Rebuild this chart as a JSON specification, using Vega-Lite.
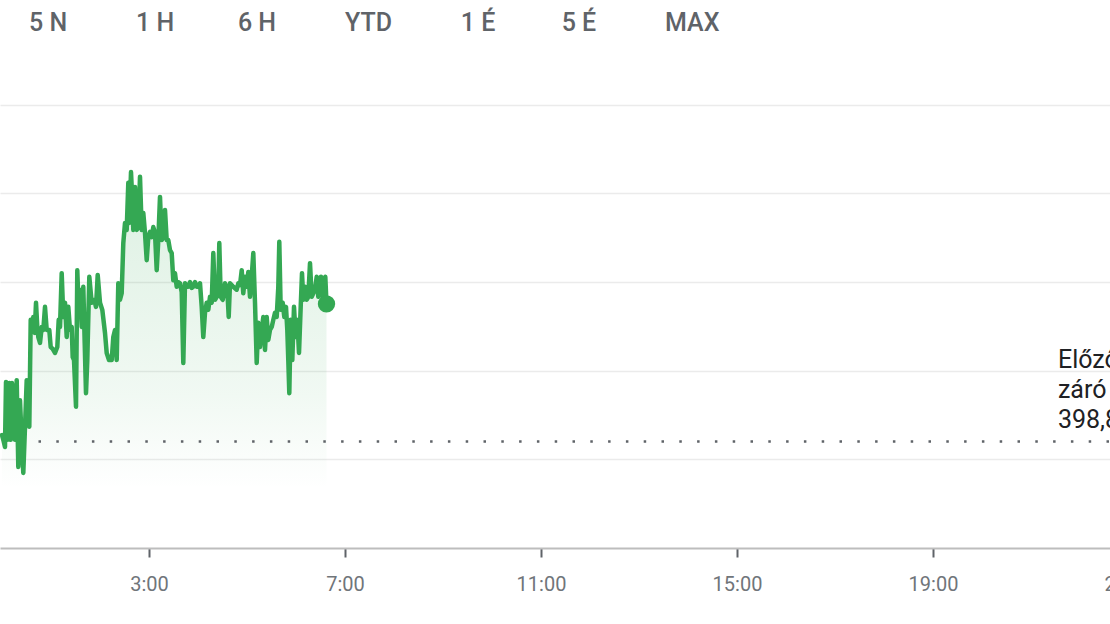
{
  "$schema": "https://vega.github.io/schema/vega-lite/v6.json",
  "width": 1110,
  "height": 488,
  "autosize": {"type": "none"},
  "padding": {"top": 60, "left": 0, "right": 0, "bottom": 76},
  "background": "white",
  "config": {"view": {"stroke": null}, "font": "Roboto"},
  "title": {
    "text": "5 N\u2003\u2003\u2002\u20091 H\u2003\u2003\u20026 H\u2003\u2003\u2002\u2009YTD\u2003\u2003\u2002\u20091 É\u2003\u2003\u2002\u200a5 É\u2003\u2003\u2002\u2009MAX",
    "anchor": "start",
    "frame": "group",
    "dx": 29,
    "offset": 12,
    "baseline": "middle",
    "fontSize": 25,
    "fontWeight": 500,
    "color": "#5f6368",
    "font": "Roboto"
  },
  "datasets": {
    "price": [
      {"t": "2024-05-14T00:00:00", "v": 398.91},
      {"t": "2024-05-14T00:01:36", "v": 398.83},
      {"t": "2024-05-14T00:03:40", "v": 398.71},
      {"t": "2024-05-14T00:04:54", "v": 399.81},
      {"t": "2024-05-14T00:06:29", "v": 398.83},
      {"t": "2024-05-14T00:08:56", "v": 399.79},
      {"t": "2024-05-14T00:10:39", "v": 398.83},
      {"t": "2024-05-14T00:12:15", "v": 399.79},
      {"t": "2024-05-14T00:13:50", "v": 399.50},
      {"t": "2024-05-14T00:15:55", "v": 398.83},
      {"t": "2024-05-14T00:18:00", "v": 399.84},
      {"t": "2024-05-14T00:19:58", "v": 398.37},
      {"t": "2024-05-14T00:22:02", "v": 399.50},
      {"t": "2024-05-14T00:24:07", "v": 398.83},
      {"t": "2024-05-14T00:26:05", "v": 398.27},
      {"t": "2024-05-14T00:28:10", "v": 399.05},
      {"t": "2024-05-14T00:30:15", "v": 399.84},
      {"t": "2024-05-14T00:32:12", "v": 399.33},
      {"t": "2024-05-14T00:33:26", "v": 399.05},
      {"t": "2024-05-14T00:35:09", "v": 400.86},
      {"t": "2024-05-14T00:37:35", "v": 400.74},
      {"t": "2024-05-14T00:38:20", "v": 400.91},
      {"t": "2024-05-14T00:40:02", "v": 400.64},
      {"t": "2024-05-14T00:41:38", "v": 401.15},
      {"t": "2024-05-14T00:43:13", "v": 400.74},
      {"t": "2024-05-14T00:44:27", "v": 400.57},
      {"t": "2024-05-14T00:46:32", "v": 400.47},
      {"t": "2024-05-14T00:48:37", "v": 400.74},
      {"t": "2024-05-14T00:50:34", "v": 400.69},
      {"t": "2024-05-14T00:52:39", "v": 401.08},
      {"t": "2024-05-14T00:54:44", "v": 400.69},
      {"t": "2024-05-14T00:57:55", "v": 400.69},
      {"t": "2024-05-14T00:59:38", "v": 400.40},
      {"t": "2024-05-14T01:02:05", "v": 400.37},
      {"t": "2024-05-14T01:04:54", "v": 400.30},
      {"t": "2024-05-14T01:07:43", "v": 400.40},
      {"t": "2024-05-14T01:09:26", "v": 400.86},
      {"t": "2024-05-14T01:11:01", "v": 400.74},
      {"t": "2024-05-14T01:13:06", "v": 401.65},
      {"t": "2024-05-14T01:15:04", "v": 400.91},
      {"t": "2024-05-14T01:17:09", "v": 401.15},
      {"t": "2024-05-14T01:19:13", "v": 400.57},
      {"t": "2024-05-14T01:21:11", "v": 401.08},
      {"t": "2024-05-14T01:23:16", "v": 400.69},
      {"t": "2024-05-14T01:25:21", "v": 400.74},
      {"t": "2024-05-14T01:26:34", "v": 400.23},
      {"t": "2024-05-14T01:28:10", "v": 400.18},
      {"t": "2024-05-14T01:30:37", "v": 399.39},
      {"t": "2024-05-14T01:32:12", "v": 401.70},
      {"t": "2024-05-14T01:33:55", "v": 401.03},
      {"t": "2024-05-14T01:35:31", "v": 401.37},
      {"t": "2024-05-14T01:37:35", "v": 400.74},
      {"t": "2024-05-14T01:39:33", "v": 401.42},
      {"t": "2024-05-14T01:41:16", "v": 400.47},
      {"t": "2024-05-14T01:42:51", "v": 399.62},
      {"t": "2024-05-14T01:44:27", "v": 400.18},
      {"t": "2024-05-14T01:46:54", "v": 401.59},
      {"t": "2024-05-14T01:49:50", "v": 401.15},
      {"t": "2024-05-14T01:53:01", "v": 401.20},
      {"t": "2024-05-14T01:55:06", "v": 401.08},
      {"t": "2024-05-14T01:57:11", "v": 401.62},
      {"t": "2024-05-14T02:00:00", "v": 401.15},
      {"t": "2024-05-14T02:02:49", "v": 401.03},
      {"t": "2024-05-14T02:06:07", "v": 400.64},
      {"t": "2024-05-14T02:08:12", "v": 400.30},
      {"t": "2024-05-14T02:11:01", "v": 400.18},
      {"t": "2024-05-14T02:14:20", "v": 400.18},
      {"t": "2024-05-14T02:16:17", "v": 400.57},
      {"t": "2024-05-14T02:18:22", "v": 400.69},
      {"t": "2024-05-14T02:20:27", "v": 400.18},
      {"t": "2024-05-14T02:22:24", "v": 401.48},
      {"t": "2024-05-14T02:24:29", "v": 401.20},
      {"t": "2024-05-14T02:26:34", "v": 401.31},
      {"t": "2024-05-14T02:28:32", "v": 402.16},
      {"t": "2024-05-14T02:30:37", "v": 402.50},
      {"t": "2024-05-14T02:32:41", "v": 402.38},
      {"t": "2024-05-14T02:34:39", "v": 403.18},
      {"t": "2024-05-14T02:35:53", "v": 402.50},
      {"t": "2024-05-14T02:37:58", "v": 403.36},
      {"t": "2024-05-14T02:39:33", "v": 402.89},
      {"t": "2024-05-14T02:40:47", "v": 402.38},
      {"t": "2024-05-14T02:42:51", "v": 403.11},
      {"t": "2024-05-14T02:44:56", "v": 402.38},
      {"t": "2024-05-14T02:46:54", "v": 402.43},
      {"t": "2024-05-14T02:48:59", "v": 403.28},
      {"t": "2024-05-14T02:51:04", "v": 402.38},
      {"t": "2024-05-14T02:53:01", "v": 402.67},
      {"t": "2024-05-14T02:55:06", "v": 402.33},
      {"t": "2024-05-14T02:57:11", "v": 401.87},
      {"t": "2024-05-14T02:59:09", "v": 402.26},
      {"t": "2024-05-14T03:01:13", "v": 402.35},
      {"t": "2024-05-14T03:03:18", "v": 402.26},
      {"t": "2024-05-14T03:05:16", "v": 402.43},
      {"t": "2024-05-14T03:07:21", "v": 402.33},
      {"t": "2024-05-14T03:09:26", "v": 401.70},
      {"t": "2024-05-14T03:11:23", "v": 402.21},
      {"t": "2024-05-14T03:13:28", "v": 402.94},
      {"t": "2024-05-14T03:15:33", "v": 402.21},
      {"t": "2024-05-14T03:17:31", "v": 402.26},
      {"t": "2024-05-14T03:19:35", "v": 402.72},
      {"t": "2024-05-14T03:21:40", "v": 402.21},
      {"t": "2024-05-14T03:23:38", "v": 402.21},
      {"t": "2024-05-14T03:25:43", "v": 402.04},
      {"t": "2024-05-14T03:27:48", "v": 401.99},
      {"t": "2024-05-14T03:29:45", "v": 401.53},
      {"t": "2024-05-14T03:31:50", "v": 401.65},
      {"t": "2024-05-14T03:33:55", "v": 401.42},
      {"t": "2024-05-14T03:35:53", "v": 401.50},
      {"t": "2024-05-14T03:37:57", "v": 401.48},
      {"t": "2024-05-14T03:40:02", "v": 401.33},
      {"t": "2024-05-14T03:42:00", "v": 400.13},
      {"t": "2024-05-14T03:44:05", "v": 401.48},
      {"t": "2024-05-14T03:46:10", "v": 401.42},
      {"t": "2024-05-14T03:48:07", "v": 401.42},
      {"t": "2024-05-14T03:50:12", "v": 401.50},
      {"t": "2024-05-14T03:52:17", "v": 401.40},
      {"t": "2024-05-14T03:54:15", "v": 401.42},
      {"t": "2024-05-14T03:56:20", "v": 401.50},
      {"t": "2024-05-14T03:58:24", "v": 401.42},
      {"t": "2024-05-14T04:00:22", "v": 401.42},
      {"t": "2024-05-14T04:02:27", "v": 401.48},
      {"t": "2024-05-14T04:04:32", "v": 401.08},
      {"t": "2024-05-14T04:06:29", "v": 400.57},
      {"t": "2024-05-14T04:08:34", "v": 400.98},
      {"t": "2024-05-14T04:10:39", "v": 401.15},
      {"t": "2024-05-14T04:12:37", "v": 401.03},
      {"t": "2024-05-14T04:14:42", "v": 401.25},
      {"t": "2024-05-14T04:16:47", "v": 401.15},
      {"t": "2024-05-14T04:18:44", "v": 401.99},
      {"t": "2024-05-14T04:20:49", "v": 401.20},
      {"t": "2024-05-14T04:22:54", "v": 401.25},
      {"t": "2024-05-14T04:24:51", "v": 401.37},
      {"t": "2024-05-14T04:26:05", "v": 402.16},
      {"t": "2024-05-14T04:27:48", "v": 401.25},
      {"t": "2024-05-14T04:30:15", "v": 401.20},
      {"t": "2024-05-14T04:31:50", "v": 401.31},
      {"t": "2024-05-14T04:33:04", "v": 401.48},
      {"t": "2024-05-14T04:35:53", "v": 401.37},
      {"t": "2024-05-14T04:37:36", "v": 400.91},
      {"t": "2024-05-14T04:39:11", "v": 401.48},
      {"t": "2024-05-14T04:43:14", "v": 401.42},
      {"t": "2024-05-14T04:47:23", "v": 401.37},
      {"t": "2024-05-14T04:49:21", "v": 401.48},
      {"t": "2024-05-14T04:51:26", "v": 401.45},
      {"t": "2024-05-14T04:53:31", "v": 401.70},
      {"t": "2024-05-14T04:55:28", "v": 401.31},
      {"t": "2024-05-14T04:57:33", "v": 401.59},
      {"t": "2024-05-14T04:59:38", "v": 401.42},
      {"t": "2024-05-14T05:01:36", "v": 401.67},
      {"t": "2024-05-14T05:03:40", "v": 401.25},
      {"t": "2024-05-14T05:05:45", "v": 401.59},
      {"t": "2024-05-14T05:07:43", "v": 401.99},
      {"t": "2024-05-14T05:09:48", "v": 401.15},
      {"t": "2024-05-14T05:11:53", "v": 400.13},
      {"t": "2024-05-14T05:13:50", "v": 400.81},
      {"t": "2024-05-14T05:15:55", "v": 400.40},
      {"t": "2024-05-14T05:18:00", "v": 400.69},
      {"t": "2024-05-14T05:19:58", "v": 400.91},
      {"t": "2024-05-14T05:22:02", "v": 400.35},
      {"t": "2024-05-14T05:24:07", "v": 400.91},
      {"t": "2024-05-14T05:26:05", "v": 400.52},
      {"t": "2024-05-14T05:28:10", "v": 400.69},
      {"t": "2024-05-14T05:30:15", "v": 400.74},
      {"t": "2024-05-14T05:32:12", "v": 400.86},
      {"t": "2024-05-14T05:34:17", "v": 400.98},
      {"t": "2024-05-14T05:36:22", "v": 400.91},
      {"t": "2024-05-14T05:38:20", "v": 401.42},
      {"t": "2024-05-14T05:39:33", "v": 402.18},
      {"t": "2024-05-14T05:41:16", "v": 401.03},
      {"t": "2024-05-14T05:43:43", "v": 401.15},
      {"t": "2024-05-14T05:45:41", "v": 400.91},
      {"t": "2024-05-14T05:47:45", "v": 401.08},
      {"t": "2024-05-14T05:49:21", "v": 400.69},
      {"t": "2024-05-14T05:50:34", "v": 400.18},
      {"t": "2024-05-14T05:51:48", "v": 399.62},
      {"t": "2024-05-14T05:53:31", "v": 400.86},
      {"t": "2024-05-14T05:55:28", "v": 400.18},
      {"t": "2024-05-14T05:57:33", "v": 401.08},
      {"t": "2024-05-14T05:59:38", "v": 400.57},
      {"t": "2024-05-14T06:01:36", "v": 400.86},
      {"t": "2024-05-14T06:03:41", "v": 400.30},
      {"t": "2024-05-14T06:05:45", "v": 401.08},
      {"t": "2024-05-14T06:07:21", "v": 401.65},
      {"t": "2024-05-14T06:08:56", "v": 401.20},
      {"t": "2024-05-14T06:11:01", "v": 401.42},
      {"t": "2024-05-14T06:13:06", "v": 401.20},
      {"t": "2024-05-14T06:15:04", "v": 401.25},
      {"t": "2024-05-14T06:17:09", "v": 401.82},
      {"t": "2024-05-14T06:19:13", "v": 401.25},
      {"t": "2024-05-14T06:21:11", "v": 401.31},
      {"t": "2024-05-14T06:23:16", "v": 401.37},
      {"t": "2024-05-14T06:25:21", "v": 401.59},
      {"t": "2024-05-14T06:27:19", "v": 401.25},
      {"t": "2024-05-14T06:29:23", "v": 401.31},
      {"t": "2024-05-14T06:30:36", "v": 401.59},
      {"t": "2024-05-14T06:32:42", "v": 401.25},
      {"t": "2024-05-14T06:34:17", "v": 401.42},
      {"t": "2024-05-14T06:35:53", "v": 401.59},
      {"t": "2024-05-14T06:37:21", "v": 401.13}
    ],
    "last": [{"t": "2024-05-14T06:37:21", "v": 401.13}],
    "close": [{"close": 398.8, "label": "Előző\nzáró\n398,80"}]
  },
  "layer": [
    {
      "data": {"name": "price"},
      "mark": {
        "type": "area",
        "color": {
          "gradient": "linear",
          "x1": 0, "y1": 0, "x2": 0, "y2": 1,
          "stops": [
            {"offset": 0, "color": "rgba(52,168,83,0.17)"},
            {"offset": 0.7, "color": "rgba(52,168,83,0.07)"},
            {"offset": 1, "color": "rgba(52,168,83,0.0)"}
          ]
        }
      },
      "encoding": {
        "x": {
          "field": "t",
          "type": "temporal",
          "scale": {
            "domain": ["2024-05-13T23:57:33", "2024-05-15T00:00:00"],
            "range": [0, 1178]
          },
          "axis": {
            "values": [
              {"year": 2024, "month": 5, "date": 14, "hours": 3},
              {"year": 2024, "month": 5, "date": 14, "hours": 7},
              {"year": 2024, "month": 5, "date": 14, "hours": 11},
              {"year": 2024, "month": 5, "date": 14, "hours": 15},
              {"year": 2024, "month": 5, "date": 14, "hours": 19},
              {"year": 2024, "month": 5, "date": 14, "hours": 23}
            ],
            "format": "%-H:%M",
            "title": null,
            "grid": false,
            "domainColor": "#bdbdbd",
            "domainWidth": 2,
            "tickColor": "#5f6368",
            "tickSize": 9,
            "tickWidth": 2,
            "labelColor": "#70757a",
            "labelFontSize": 20,
            "labelFont": "Roboto",
            "labelPadding": 17,
            "labelFlush": false,
            "labelOverlap": false,
            "labelBound": false
          }
        },
        "y": {
          "field": "v",
          "type": "quantitative",
          "scale": {"domain": [397, 405.257], "nice": false, "zero": false},
          "axis": {
            "values": [398.5, 400, 401.5, 403, 404.5],
            "grid": true,
            "gridColor": "#ebebeb",
            "gridWidth": 1.5,
            "labels": false,
            "ticks": false,
            "domain": false,
            "title": null
          }
        },
        "y2": {"datum": 398.0}
      }
    },
    {
      "data": {"name": "close"},
      "mark": {"type": "rule", "color": "#5f6368", "strokeWidth": 2.5, "strokeDash": [2.5, 15.3], "strokeDashOffset": -1},
      "encoding": {"y": {"field": "close", "type": "quantitative"}}
    },
    {
      "data": {"name": "price"},
      "mark": {"type": "line", "color": "#34a853", "strokeWidth": 4.5, "strokeJoin": "round", "strokeCap": "round"},
      "encoding": {
        "x": {"field": "t", "type": "temporal"},
        "y": {"field": "v", "type": "quantitative"}
      }
    },
    {
      "data": {"name": "last"},
      "mark": {"type": "circle", "color": "#34a853", "size": 300, "opacity": 1},
      "encoding": {
        "x": {"field": "t", "type": "temporal"},
        "y": {"field": "v", "type": "quantitative"}
      }
    },
    {
      "data": {"name": "close"},
      "mark": {"type": "text", "align": "left", "baseline": "bottom", "lineBreak": "\n", "lineHeight": 30, "fontSize": 25, "font": "Roboto", "color": "#202124", "dy": -69},
      "encoding": {
        "x": {"datum": {"year": 2024, "month": 5, "date": 14, "hours": 21, "minutes": 33}, "type": "temporal"},
        "y": {"field": "close", "type": "quantitative"},
        "text": {"field": "label"}
      }
    }
  ]
}
